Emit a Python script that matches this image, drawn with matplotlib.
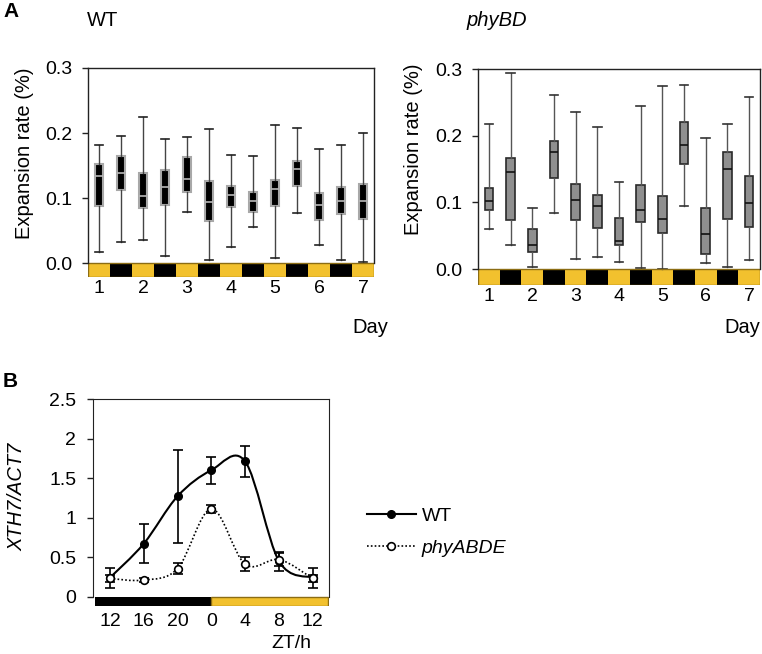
import numpy as np
import matplotlib
matplotlib.use('Agg')
import matplotlib.pyplot as plt
from matplotlib.path import Path
from matplotlib.patches import PathPatch, Rectangle
from matplotlib.lines import Line2D

plt.rcParams['font.family'] = ['Liberation Sans', 'DejaVu Sans']
plt.rcParams['font.size'] = 14.5

# ================= DATA =================#

# Panel A: 13 half-day intervals (light / dark) over 7 days
day_labels = ['1', '2', '3', '4', '5', '6', '7']

# WT box stats (expansion rate, %)
wt_hi  = [0.182, 0.196, 0.225, 0.191, 0.194, 0.206, 0.166, 0.164, 0.212, 0.207, 0.175, 0.181, 0.200]
wt_q3  = [0.153, 0.165, 0.139, 0.143, 0.163, 0.126, 0.119, 0.109, 0.128, 0.157, 0.107, 0.117, 0.122]
wt_med = [0.134, 0.139, 0.103, 0.117, 0.130, 0.094, 0.104, 0.096, 0.114, 0.144, 0.090, 0.096, 0.096]
wt_q1  = [0.088, 0.112, 0.084, 0.089, 0.110, 0.065, 0.086, 0.078, 0.087, 0.118, 0.066, 0.076, 0.068]
wt_lo  = [0.017, 0.032, 0.036, 0.011, 0.079, 0.004, 0.025, 0.056, 0.008, 0.077, 0.027, 0.004, 0.001]

# phyBD box stats
bd_hi  = [0.217, 0.294, 0.092, 0.261, 0.236, 0.213, 0.130, 0.245, 0.275, 0.276, 0.197, 0.217, 0.258]
bd_q3  = [0.122, 0.167, 0.060, 0.192, 0.128, 0.111, 0.077, 0.126, 0.109, 0.221, 0.092, 0.176, 0.139]
bd_med = [0.102, 0.145, 0.037, 0.175, 0.104, 0.095, 0.043, 0.089, 0.076, 0.186, 0.053, 0.150, 0.099]
bd_q1  = [0.089, 0.074, 0.026, 0.137, 0.074, 0.062, 0.036, 0.071, 0.054, 0.157, 0.023, 0.076, 0.063]
bd_lo  = [0.061, 0.036, 0.003, 0.085, 0.016, 0.018, 0.011, 0.002, 0.000, 0.095, 0.009, 0.003, 0.014]

# Panel B: XTH7/ACT7 expression
zt_labels = ['12', '16', '20', '0', '4', '8', '12']
wt_expr = [0.24, 0.67, 1.27, 1.60, 1.71, 0.45, 0.24]
wt_err  = [0.125, 0.25, 0.59, 0.17, 0.20, 0.12, 0.125]
abde_expr = [0.23, 0.21, 0.355, 1.11, 0.41, 0.47, 0.23]
abde_err  = [0.04, 0.03, 0.07, 0.05, 0.09, 0.08, 0.04]

YELLOW = '#f2c12e'
STRIP_EDGE = '#8c6d14'
TICK_FS = 14


def box_stats(lo, q1, med, q3, hi):
    return [dict(whislo=a, q1=b, med=c, q3=d, whishi=e, fliers=[])
            for a, b, c, d, e in zip(lo, q1, med, q3, hi)]


def day_strip(ax, n, height):
    # light / dark bars under the boxes
    pos = np.arange(1, n + 1)
    colors = [YELLOW if p % 2 == 1 else 'black' for p in pos]
    ax.bar(pos, -height, bottom=0, width=1.0, color=colors, edgecolor='none', zorder=1)
    ax.add_patch(Rectangle((0.5, -height), n, height, fill=False,
                           edgecolor=STRIP_EDGE, lw=1.0, zorder=2))


def style_box_axes(ax, ymin):
    ax.set_xlim(0.5, 13.5)
    ax.set_ylim(ymin, 0.3)
    ax.spines['bottom'].set_visible(False)
    ax.spines['left'].set_bounds(0, 0.3)
    ax.spines['right'].set_bounds(0, 0.3)
    for s in ax.spines.values():
        s.set_color('#222222')
        s.set_linewidth(1.0)
    ax.set_yticks([0, 0.1, 0.2, 0.3])
    ax.set_yticklabels(['0.0', '0.1', '0.2', '0.3'])
    ax.set_xticks(np.arange(1, 14, 2))
    ax.set_xticklabels(day_labels)
    ax.tick_params(axis='y', length=4.5, width=1, pad=7, color='#222222', labelsize=TICK_FS)
    ax.tick_params(axis='x', length=0, pad=2, labelsize=TICK_FS)


fig = plt.figure(figsize=(7.62, 6.54), dpi=100)

#==============PANEL-A-WT================#
ax1 = fig.add_axes([88 / 762, 1 - 277 / 654, 286 / 762, 209 / 654])
ax1.bxp(box_stats(wt_lo, wt_q1, wt_med, wt_q3, wt_hi), positions=np.arange(1, 14),
        widths=0.4, capwidths=0.4, patch_artist=True, showfliers=False,
        boxprops=dict(facecolor='black', edgecolor='#a8a8a8', linewidth=1.5),
        medianprops=dict(color='#b8b8b8', linewidth=1.2),
        whiskerprops=dict(color='#444444', linewidth=1.0),
        capprops=dict(color='#222222', linewidth=1.2))
day_strip(ax1, 13, 0.0215)
style_box_axes(ax1, -0.0215)
ax1.set_ylabel('Expansion rate (%)', va='center')
ax1.yaxis.set_label_coords(-0.223, 0.59)

#==============PANEL-A-phyBD================#
ax2 = fig.add_axes([478 / 762, 1 - 285 / 654, 282 / 762, 216 / 654])
ax2.bxp(box_stats(bd_lo, bd_q1, bd_med, bd_q3, bd_hi), positions=np.arange(1, 14),
        widths=0.4, capwidths=0.4, patch_artist=True, showfliers=False,
        boxprops=dict(facecolor='#8f8f8f', edgecolor='#2a2a2a', linewidth=1.2),
        medianprops=dict(color='#111111', linewidth=1.2),
        whiskerprops=dict(color='#555555', linewidth=1.0),
        capprops=dict(color='#333333', linewidth=1.2))
day_strip(ax2, 13, 0.0236)
style_box_axes(ax2, -0.0236)
ax2.set_ylabel('Expansion rate (%)', va='center')
ax2.yaxis.set_label_coords(-0.23, 0.63)

#==============PANEL-B================#
ax3 = fig.add_axes([93 / 762, 1 - 606 / 654, 236 / 762, 207 / 654])
x = np.arange(len(zt_labels))


def smooth_path(xs, ys):
    # Catmull-Rom style smoothing drawn as cubic Bezier segments
    xs = np.asarray(xs, float)
    ys = np.asarray(ys, float)
    pts = np.column_stack([xs, ys])
    verts = [pts[0]]
    codes = [Path.MOVETO]
    n = len(pts)
    for i in range(n - 1):
        p0 = pts[max(i - 1, 0)]
        p1 = pts[i]
        p2 = pts[i + 1]
        p3 = pts[min(i + 2, n - 1)]
        c1 = p1 + (p2 - p0) / 6.0
        c2 = p2 - (p3 - p1) / 6.0
        verts += [c1, c2, p2]
        codes += [Path.CURVE4] * 3
    return Path(verts, codes)


ax3.add_patch(PathPatch(smooth_path(x, wt_expr), fill=False, lw=1.5, color='black', zorder=3))
ax3.add_patch(PathPatch(smooth_path(x, abde_expr), fill=False, lw=1.2, color='black',
                        linestyle=(0, (1, 1.3)), zorder=3))
ax3.errorbar(x, wt_expr, yerr=wt_err, fmt='none', ecolor='black', elinewidth=1.2,
             capsize=3.3, capthick=1.2, zorder=4)
ax3.errorbar(x, abde_expr, yerr=abde_err, fmt='none', ecolor='black', elinewidth=1.2,
             capsize=3.3, capthick=1.2, zorder=4)
ax3.plot(x, wt_expr, 'o', color='black', ms=5.5, zorder=5)
ax3.plot(x, abde_expr, 'o', mfc='white', mec='black', mew=1.2, ms=5.5, zorder=6)

# light / dark strip
dark_end = zt_labels.index('0')
strip_h = 0.118
ax3.bar([-0.44, dark_end], -strip_h, bottom=0,
        width=[dark_end + 0.44, len(x) - 1 + 0.44 - dark_end],
        align='edge', color=['black', YELLOW], edgecolor='none', zorder=1)
ax3.add_patch(Rectangle((dark_end, -strip_h), len(x) - 1 + 0.44 - dark_end, strip_h,
                        fill=False, edgecolor=STRIP_EDGE, lw=1.0, zorder=2))

ax3.set_xlim(-0.5, 6.48)
ax3.set_ylim(-strip_h, 2.5)
ax3.spines['bottom'].set_visible(False)
ax3.spines['left'].set_bounds(0, 2.5)
ax3.spines['right'].set_bounds(0, 2.5)
for s in ax3.spines.values():
    s.set_color('#222222')
ax3.set_yticks([0, 0.5, 1, 1.5, 2, 2.5])
ax3.set_yticklabels(['0', '0.5', '1', '1.5', '2', '2.5'])
ax3.set_xticks(x)
ax3.set_xticklabels(zt_labels)
ax3.tick_params(axis='y', length=4, width=1, pad=8, color='#222222', labelsize=TICK_FS)
ax3.tick_params(axis='x', length=0, pad=5, labelsize=TICK_FS)
ax3.set_ylabel('XTH7/ACT7', style='italic', va='center')
ax3.yaxis.set_label_coords(-0.322, 0.527)

# Legend
handles = [Line2D([], [], color='black', lw=1.5, marker='o', ms=5.5),
           Line2D([], [], color='black', lw=1.2, linestyle=(0, (1, 1.3)), marker='o',
                  mfc='white', mec='black', mew=1.2, ms=5.5)]
leg = fig.legend(handles, ['WT', 'phyABDE'], loc='upper left', fontsize=14,
                 bbox_to_anchor=(367 / 762, 1 - 507 / 654), frameon=False,
                 borderpad=0, borderaxespad=0, handlelength=2.5, handletextpad=0.3,
                 labelspacing=0.75, numpoints=1)
leg.get_texts()[1].set_style('italic')

#==============LABELS================#
fig.text(3 / 762, 1 - 2 / 654, 'A', weight='bold', fontsize=15, va='top')
fig.text(3 / 762, 1 - 372 / 654, 'B', weight='bold', fontsize=15, va='top')
fig.text(87 / 762, 1 - 20 / 654, 'WT', va='center')
fig.text(467 / 762, 1 - 20 / 654, 'phyBD', style='italic', va='center')
fig.text(388 / 762, 1 - 328 / 654, 'Day', ha='right', va='center')
fig.text(760 / 762, 1 - 328 / 654, 'Day', ha='right', va='center')
fig.text(291 / 762, 1 - 644 / 654, 'ZT/h', ha='center', va='center', fontsize=14)

fig.savefig('out.png', dpi=100)
